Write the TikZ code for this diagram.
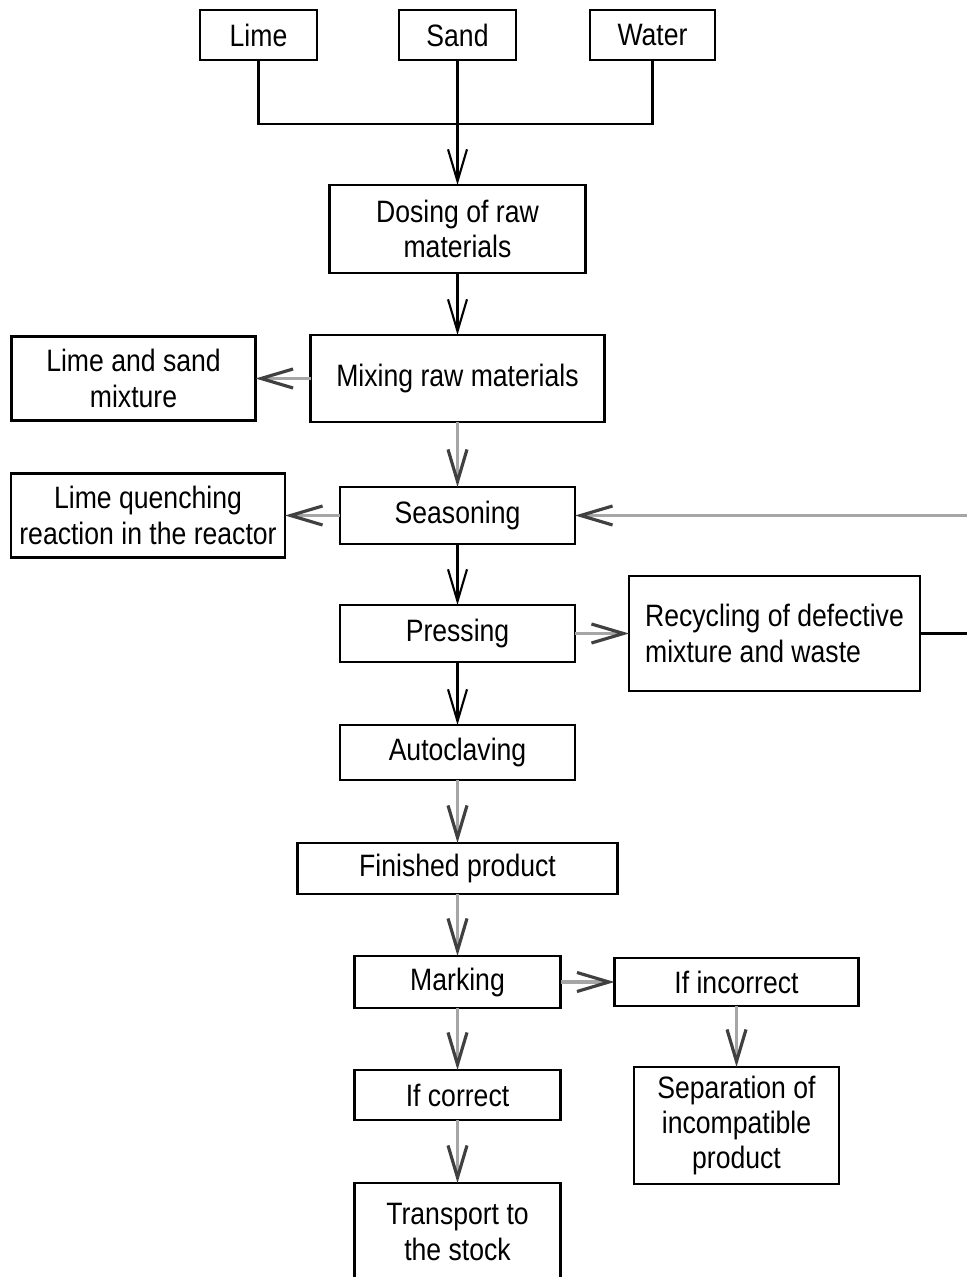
\documentclass[tikz,border=0pt]{standalone}
\usepackage{fontspec}
\setmainfont{Liberation Sans}[FakeStretch=0.86]
\usepackage{tikz}
\usetikzlibrary{arrows.meta,positioning,calc}
\definecolor{linegray}{HTML}{A6A6A6}
\tikzset{
  stage/.style={
    draw=black, line width=0.6pt, minimum height=0.57cm, inner sep=0pt, outer sep=0pt,
    align=center, font=\fontsize{8.8pt}{10pt}\selectfont
  },
  link/.style={line width=0.6pt, black},
  flow/.style={-{Straight Barb[length=0.32cm,width=0.19cm]}, line width=0.6pt, black},
  flowgray/.style={-{Straight Barb[length=0.32cm,width=0.19cm,color=black!75]}, line width=0.9pt, linegray},
}
\begin{document}
\begin{tikzpicture}[node distance=0.62cm and 0.55cm]
    \useasboundingbox (0,0) rectangle (9.66,-12.77);
    \node[stage, minimum width=1.17cm, minimum height=0.5cm] (sand) at (4.575,-0.35) {Sand};
    \node[stage, minimum width=1.17cm, minimum height=0.5cm, left=0.82cm of sand] (lime) {Lime};
    \node[stage, minimum width=1.25cm, minimum height=0.5cm, right=0.74cm of sand] (water) {Water};
    \node[stage, minimum width=2.56cm, minimum height=0.88cm, below=1.25cm of sand] (dosing) {Dosing of raw\\materials};
    \node[stage, minimum width=2.94cm, minimum height=0.87cm, below=of dosing] (mixing) {Mixing raw materials};
    \node[stage, minimum width=2.44cm, minimum height=0.84cm, left=of mixing] (mixture) {Lime and sand\\mixture};
    \node[stage, minimum width=2.35cm, below=0.65cm of mixing] (seasoning) {Seasoning};
    \node[stage, minimum width=2.74cm, minimum height=0.84cm, left=of seasoning] (quench) {Lime quenching\\reaction in the reactor};
    \node[stage, minimum width=2.35cm, below=0.61cm of seasoning] (pressing) {Pressing};
    \node[stage, minimum width=2.91cm, minimum height=1.15cm, right=0.54cm of pressing, align=left] (recycling) {Recycling of defective\\mixture and waste};
    \node[stage, minimum width=2.35cm, minimum height=0.55cm, below=0.63cm of pressing] (autoclave) {Autoclaving};
    \node[stage, minimum width=3.2cm, minimum height=0.51cm, below=0.63cm of autoclave] (finished) {Finished product};
    \node[stage, minimum width=2.06cm, minimum height=0.52cm, below=of finished] (marking) {Marking};
    \node[stage, minimum width=2.44cm, minimum height=0.48cm, right=0.54cm of marking] (incorrect) {If incorrect};
    \node[stage, minimum width=2.06cm, minimum height=0.5cm, below=of marking] (correct) {If correct};
    \node[stage, minimum width=2.05cm, minimum height=1.17cm, below=0.61cm of incorrect] (separation) {Separation of\\incompatible\\product};
    \node[stage, minimum width=2.06cm, minimum height=0.98cm, below=0.63cm of correct] (transport) {Transport to\\the stock};
    \coordinate (join) at ($(sand.south)+(0,-0.64)$);
    \draw[link] (lime.south) |- (join) -| (water.south);
    \draw[flow] (sand.south) -- (dosing.north);
    \draw[flow] (dosing) -- (mixing);
    \draw[flowgray] (mixing) -- (mixture);
    \draw[flowgray] (mixing) -- (seasoning);
    \draw[flowgray] (seasoning) -- (quench);
    \draw[flow] (seasoning) -- (pressing);
    \draw[flowgray] (pressing) -- (recycling);
    \draw[link] (recycling.east) -- ++(0.6,0) coordinate (loopa);
    \draw[flowgray] (loopa) |- (seasoning.east);
    \draw[flow] (pressing) -- (autoclave);
    \draw[flowgray] (autoclave) -- (finished);
    \draw[flowgray] (finished) -- (marking);
    \draw[flowgray] (marking) -- (incorrect);
    \draw[flowgray] (marking) -- (correct);
    \draw[flowgray] (incorrect) -- (separation);
    \draw[flowgray] (correct) -- (transport);
  \end{tikzpicture}
\end{document}
